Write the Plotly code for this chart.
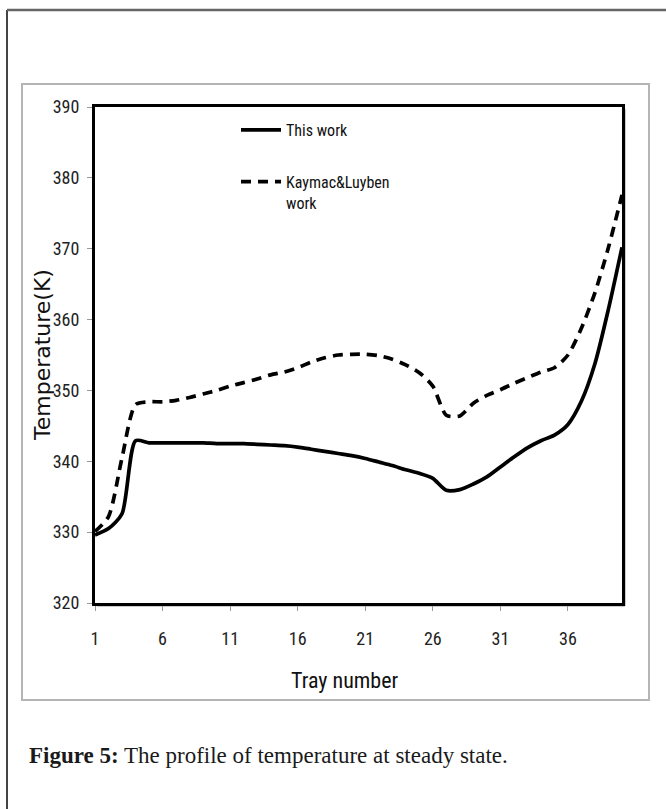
import plotly.graph_objects as go

# ---- data ----
trays = list(range(1, 41))
this_work = [329.6, 330.5, 332.6, 342.9, 342.6, 342.6, 342.6, 342.6, 342.6, 342.5,
             342.5, 342.5, 342.4, 342.3, 342.2, 342.0, 341.7, 341.4, 341.1, 340.8,
             340.4, 339.9, 339.4, 338.8, 338.3, 337.6, 335.9, 336.0, 336.8, 337.8,
             339.2, 340.6, 341.9, 342.9, 343.7, 345.2, 348.5, 353.8, 361.5, 370.2]
kaymac_luyben = [330.1, 332.2, 340.5, 348.0, 348.4, 348.4, 348.6, 349.0, 349.5, 350.0,
                 350.6, 351.1, 351.6, 352.2, 352.6, 353.2, 354.0, 354.6, 355.0, 355.1,
                 355.1, 354.9, 354.4, 353.6, 352.5, 350.6, 346.5, 346.4, 348.2, 349.3,
                 350.1, 351.0, 351.8, 352.6, 353.2, 355.0, 358.8, 363.8, 370.2, 377.6]
x_ticks = [1, 6, 11, 16, 21, 26, 31, 36]
y_ticks = [320, 330, 340, 350, 360, 370, 380, 390]
series_names = ["This work", "Kaymac&Luyben<br>work"]

NARROW = "Liberation Sans Narrow, Arial Narrow, Roboto Condensed, sans-serif"

W, H = 666, 809
L, R, T, B = 95, 44, 107, 206
PW, PH = W - L - R, H - T - B


def px(x):
    return (x - L) / PW


def py(y):
    return (H - B - y) / PH


fig = go.Figure()
fig.add_trace(go.Scatter(x=trays, y=this_work, mode="lines", name=series_names[0],
                         legendgroup="a",
                         line=dict(color="black", width=3.7, shape="spline", smoothing=0.7)))
fig.add_trace(go.Scatter(x=trays, y=kaymac_luyben, mode="lines", name=series_names[1],
                         legendgroup="b",
                         line=dict(color="black", width=3.7, dash="10px,7px",
                                   shape="spline", smoothing=0.7)))

shapes = [
    # outer page frame
    dict(type="line", xref="paper", yref="paper", x0=px(7), x1=px(7), y0=py(10), y1=py(809),
         line=dict(color="#444", width=2)),
    dict(type="line", xref="paper", yref="paper", x0=px(7), x1=px(666), y0=py(10), y1=py(10),
         line=dict(color="#666", width=2.5)),
    # chart box
    dict(type="rect", xref="paper", yref="paper", x0=px(22), x1=px(649), y0=py(84), y1=py(700),
         line=dict(color="#b5b5b5", width=2), layer="below"),
    # plot frame shadow (bottom and right)
    dict(type="line", xref="paper", yref="paper", x0=px(97), x1=px(625), y0=py(605.5), y1=py(605.5),
         line=dict(color="#9a9a9a", width=2), layer="below"),
    dict(type="line", xref="paper", yref="paper", x0=px(624.5), x1=px(624.5), y0=py(109), y1=py(606),
         line=dict(color="#9a9a9a", width=2), layer="below"),
]

annotations = [
    dict(text="Tray number", xref="paper", yref="paper", x=px(345), y=py(680),
         xanchor="center", yanchor="middle",
         showarrow=False, font=dict(family=NARROW, size=22, color="#111")),
    dict(text="Temperature(K)", xref="paper", yref="paper", x=px(42), y=py(355),
         xanchor="center", yanchor="middle",
         textangle=-90, showarrow=False, font=dict(family="DejaVu Sans", size=22, color="#111")),
    dict(text="<b>Figure 5:</b> The profile of temperature at steady state.",
         xref="paper", yref="paper", x=px(27), y=py(755), xanchor="left", yanchor="middle",
         showarrow=False, font=dict(family="Liberation Serif", size=23, color="#1a1a1a")),
]

fig.update_layout(
    width=W, height=H,
    margin=dict(l=L, r=R, t=T, b=B),
    paper_bgcolor="white", plot_bgcolor="white",
    showlegend=True,
    legend=dict(x=px(236), y=py(113), xanchor="left", yanchor="top",
                font=dict(family=NARROW, size=16, color="#111"),
                traceorder="grouped", tracegroupgap=28, valign="top",
                bgcolor="rgba(0,0,0,0)", borderwidth=0, itemwidth=40),
    shapes=shapes,
    annotations=annotations,
)
fig.update_xaxes(range=[1, 40], tickvals=x_ticks, ticktext=[str(v) for v in x_ticks],
                 ticks="outside", ticklen=5, tickcolor="#999", tickwidth=1,
                 showline=True, mirror=True, linecolor="black", linewidth=3,
                 showgrid=False, zeroline=False, ticklabelstandoff=12,
                 tickfont=dict(family=NARROW, size=18, color="#222"))
fig.update_yaxes(range=[320, 390], tickvals=y_ticks, ticktext=[str(v) for v in y_ticks],
                 ticks="outside", ticklen=5, tickcolor="#999", tickwidth=1,
                 showline=True, mirror=True, linecolor="black", linewidth=3,
                 showgrid=False, zeroline=False, ticklabelstandoff=4,
                 tickfont=dict(family=NARROW, size=18, color="#222"))

fig.write_html("out.html")
